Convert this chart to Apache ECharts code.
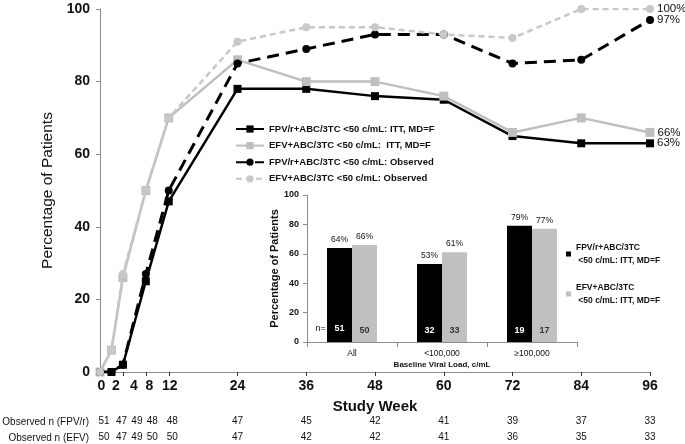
<!DOCTYPE html>
<html><head><meta charset="utf-8">
<script src="https://cdn.jsdelivr.net/npm/echarts@6/dist/echarts.min.js"></script>
<style>html,body{margin:0;padding:0;background:#fff}#c{width:685px;height:444px}</style>
</head><body><div id="c"></div>
<script>
// ---------------- data ----------------
const weeks = [0, 2, 4, 8, 12, 24, 36, 48, 60, 72, 84, 96];
const weekTickLabels = ['0', '2', '4', '8', '12', '24', '36', '48', '60', '72', '84', '96'];
const fpvITT = [0, 0, 2, 25, 47, 78, 78, 76, 75, 65, 63, 63];
const efvITT = [0, 6, 26, 50, 70, 86, 80, 80, 76, 66, 70, 66];
const fpvObs = [0, 0, 2, 27, 50, 85, 89, 93, 93, 85, 86, 97];
const efvObs = [0, 6, 27, 50, 70, 91, 95, 95, 93, 92, 100, 100];
const nFpvObserved = [51, 47, 49, 48, 48, 47, 45, 42, 41, 39, 37, 33];
const nEfvObserved = [50, 47, 49, 50, 50, 47, 42, 42, 41, 36, 35, 33];
const lineNames = [
  'FPV/r+ABC/3TC <50 c/mL: ITT, MD=F',
  'EFV+ABC/3TC <50 c/mL:  ITT, MD=F',
  'FPV/r+ABC/3TC <50 c/mL: Observed',
  'EFV+ABC/3TC <50 c/mL: Observed'
];
const tableRowNames = ['Observed n (FPV/r)', 'Observed n (EFV)'];

const loadCategories = ['All', '<100,000', '≥100,000'];
const fpvBar = [64, 53, 79];
const efvBar = [66, 61, 77];
const nFpvBar = [51, 32, 19];
const nEfvBar = [50, 33, 17];
const barNames = ['FPV/r+ABC/3TC\n <50 c/mL: ITT, MD=F', 'EFV+ABC/3TC\n <50 c/mL: ITT, MD=F'];

// ---------------- styles ----------------
const FONT = '"Liberation Sans", Arial, sans-serif';
const TXT = '#111';
const AXC = '#8c8c8c';
// small horizontal nudges (px) for crowded early-week labels, as in the original
const axisLabelNudge = {0: 1.5, 2: 4.5, 4: 11, 8: 3.5, 12: 1};
const tableLabelNudge = {0: 4, 2: 10, 4: 14, 8: 6.5, 12: 3.5};

function nudgedLabel(texts, nudge, base) {
  const rich = {};
  weeks.forEach((w, i) => {
    rich['w' + i] = Object.assign({}, base, {padding: [0, 0, 0, 2 * (nudge[w] || 0)]});
  });
  return {
    customValues: weeks,
    formatter: (v) => {
      const i = weeks.indexOf(v);
      return i < 0 ? '' : '{w' + i + '|' + texts[i] + '}';
    },
    rich: rich
  };
}

function lineData(vals) {
  return weeks.map((w, i) => {
    const d = {value: [w, vals[i]]};
    if (i === weeks.length - 1) {
      d.label = {show: true, position: 'right', distance: 3, formatter: vals[i] + '%',
        fontFamily: FONT, fontSize: 11.5, color: TXT};
    }
    return d;
  });
}

const lineStyles = [
  {color: '#000', width: 2.5, type: 'solid', symbol: 'rect', size: 8},
  {color: '#bfbfbf', width: 2.5, type: 'solid', symbol: 'rect', size: 9},
  {color: '#000', width: 3, type: [12, 7], symbol: 'circle', size: 8},
  {color: '#c8c8c8', width: 2.5, type: [6, 4], symbol: 'circle', size: 8}
];
const lineVals = [fpvITT, efvITT, fpvObs, efvObs];

const lineSeries = lineVals.map((vals, k) => ({
  name: lineNames[k], type: 'line', xAxisIndex: 0, yAxisIndex: 0,
  data: lineData(vals), symbol: lineStyles[k].symbol, symbolSize: lineStyles[k].size,
  color: lineStyles[k].color,
  lineStyle: {color: lineStyles[k].color, width: lineStyles[k].width, type: lineStyles[k].type},
  itemStyle: {color: lineStyles[k].color},
  z: 3 + k, animation: false
}));

const tableStyle = {fontFamily: FONT, fontSize: 10, color: TXT};
const tableAxis = (row, offset, nums) => ({
  type: 'value', gridIndex: 0, min: 0, max: 96, position: 'bottom', offset: offset,
  axisLine: {show: false}, axisTick: {show: false}, splitLine: {show: false},
  name: tableRowNames[row], nameLocation: 'start', nameGap: 11,
  nameTextStyle: Object.assign({verticalAlign: 'top', padding: [1, 0, 0, 0]}, tableStyle),
  axisLabel: Object.assign({margin: 0}, tableStyle, nudgedLabel(nums.map(String), tableLabelNudge, tableStyle))
});

const xLabelStyle = {fontFamily: FONT, fontSize: 14, fontWeight: 'bold', color: TXT};

const option = {
  backgroundColor: '#fff',
  animation: false,
  grid: [
    {left: 100, right: 35, top: 9, bottom: 72, outerBoundsMode: 'none', containLabel: false},
    {left: 307, top: 195, width: 270, height: 147, outerBoundsMode: 'none', containLabel: false}
  ],
  legend: [
    {data: lineNames, orient: 'vertical', left: 230, top: 118, itemWidth: 28, itemHeight: 9, itemGap: 4.6,
      textStyle: {fontFamily: FONT, fontSize: 9.5, fontWeight: 'bold', color: TXT, lineHeight: 12}},
    {data: barNames, orient: 'vertical', left: 561, top: 236, itemWidth: 5, itemHeight: 5, itemGap: 14,
      icon: 'rect',
      textStyle: {fontFamily: FONT, fontSize: 8.5, fontWeight: 'bold', color: TXT, lineHeight: 13}}
  ],
  xAxis: [
    {type: 'value', gridIndex: 0, min: 0, max: 96,
      axisLine: {show: true, lineStyle: {color: AXC, width: 1}},
      axisTick: {show: true, customValues: weeks, length: 4, lineStyle: {color: '#333'}},
      splitLine: {show: false},
      axisLabel: Object.assign({margin: 7}, xLabelStyle, nudgedLabel(weekTickLabels, axisLabelNudge, xLabelStyle)),
      name: 'Study Week', nameLocation: 'middle', nameGap: 27,
      nameTextStyle: {fontFamily: FONT, fontSize: 15, fontWeight: 'bold', color: TXT}},
    tableAxis(0, 44, nFpvObserved),
    tableAxis(1, 60, nEfvObserved),
    {type: 'category', gridIndex: 1, data: loadCategories,
      axisLine: {lineStyle: {color: AXC}}, axisTick: {show: true, alignWithLabel: false, lineStyle: {color: AXC}},
      axisLabel: {fontFamily: FONT, fontSize: 8.5, color: TXT, margin: 7},
      name: 'Baseline Viral Load, c/mL', nameLocation: 'middle', nameGap: 19,
      nameTextStyle: {fontFamily: FONT, fontSize: 8, fontWeight: 'bold', color: TXT}},
    {type: 'category', gridIndex: 1, data: loadCategories, show: false}
  ],
  yAxis: [
    {type: 'value', gridIndex: 0, min: 0, max: 100, interval: 20,
      axisLine: {show: true, lineStyle: {color: AXC}},
      axisTick: {show: true, length: 4, lineStyle: {color: AXC}},
      splitLine: {show: false},
      axisLabel: {fontFamily: FONT, fontSize: 14, fontWeight: 'bold', color: TXT, margin: 10},
      name: 'Percentage of Patients', nameLocation: 'middle', nameGap: 42,
      nameTextStyle: {fontFamily: FONT, fontSize: 15.5, color: TXT}},
    {type: 'value', gridIndex: 1, min: 0, max: 100, interval: 20,
      axisLine: {show: true, lineStyle: {color: AXC}},
      axisTick: {show: true, length: 4, lineStyle: {color: AXC}},
      splitLine: {show: false},
      axisLabel: {fontFamily: FONT, fontSize: 9, fontWeight: 'bold', color: TXT, margin: 8},
      name: 'Percentage of Patients', nameLocation: 'middle', nameGap: 25,
      nameTextStyle: {fontFamily: FONT, fontSize: 11, fontWeight: 'bold', color: TXT}},
    {type: 'value', gridIndex: 1, min: 0, max: 100, show: false}
  ],
  series: lineSeries.concat([
    {name: barNames[0], type: 'bar', xAxisIndex: 3, yAxisIndex: 1, data: fpvBar,
      barWidth: 25, barGap: '0%', itemStyle: {color: '#000'},
      label: {show: true, position: 'top', distance: 4, formatter: (p) => p.value + '%',
        fontFamily: FONT, fontSize: 8.5, color: TXT}},
    {name: barNames[1], type: 'bar', xAxisIndex: 3, yAxisIndex: 1, data: efvBar,
      barWidth: 25, barGap: '0%', itemStyle: {color: '#c0c0c0'},
      label: {show: true, position: 'top', distance: 4, formatter: (p) => p.value + '%',
        fontFamily: FONT, fontSize: 8.5, color: TXT}},
    {type: 'bar', xAxisIndex: 4, yAxisIndex: 2, data: fpvBar, silent: true,
      barWidth: 25, barGap: '0%', itemStyle: {color: 'rgba(0,0,0,0)'},
      label: {show: true, position: 'insideBottom', distance: 7,
        formatter: (p) => p.dataIndex === 0 ? '{pre|n=}{v|' + nFpvBar[p.dataIndex] + '}{pad|}' : '{v|' + nFpvBar[p.dataIndex] + '}',
        rich: {
          pre: {width: 19, align: 'left', fontFamily: FONT, fontSize: 9, color: TXT},
          v: {fontFamily: FONT, fontSize: 9, fontWeight: 'bold', color: '#fff'},
          pad: {width: 19}
        }}},
    {type: 'bar', xAxisIndex: 4, yAxisIndex: 2, data: efvBar, silent: true,
      barWidth: 25, barGap: '0%', itemStyle: {color: 'rgba(0,0,0,0)'},
      label: {show: true, position: 'insideBottom', distance: 7,
        formatter: (p) => String(nEfvBar[p.dataIndex]),
        fontFamily: FONT, fontSize: 9, fontWeight: 'bold', color: '#333'}}
  ])
};

const chart = echarts.init(document.getElementById('c'), null, {renderer: 'canvas'});
chart.setOption(option);
</script>
</body></html>
